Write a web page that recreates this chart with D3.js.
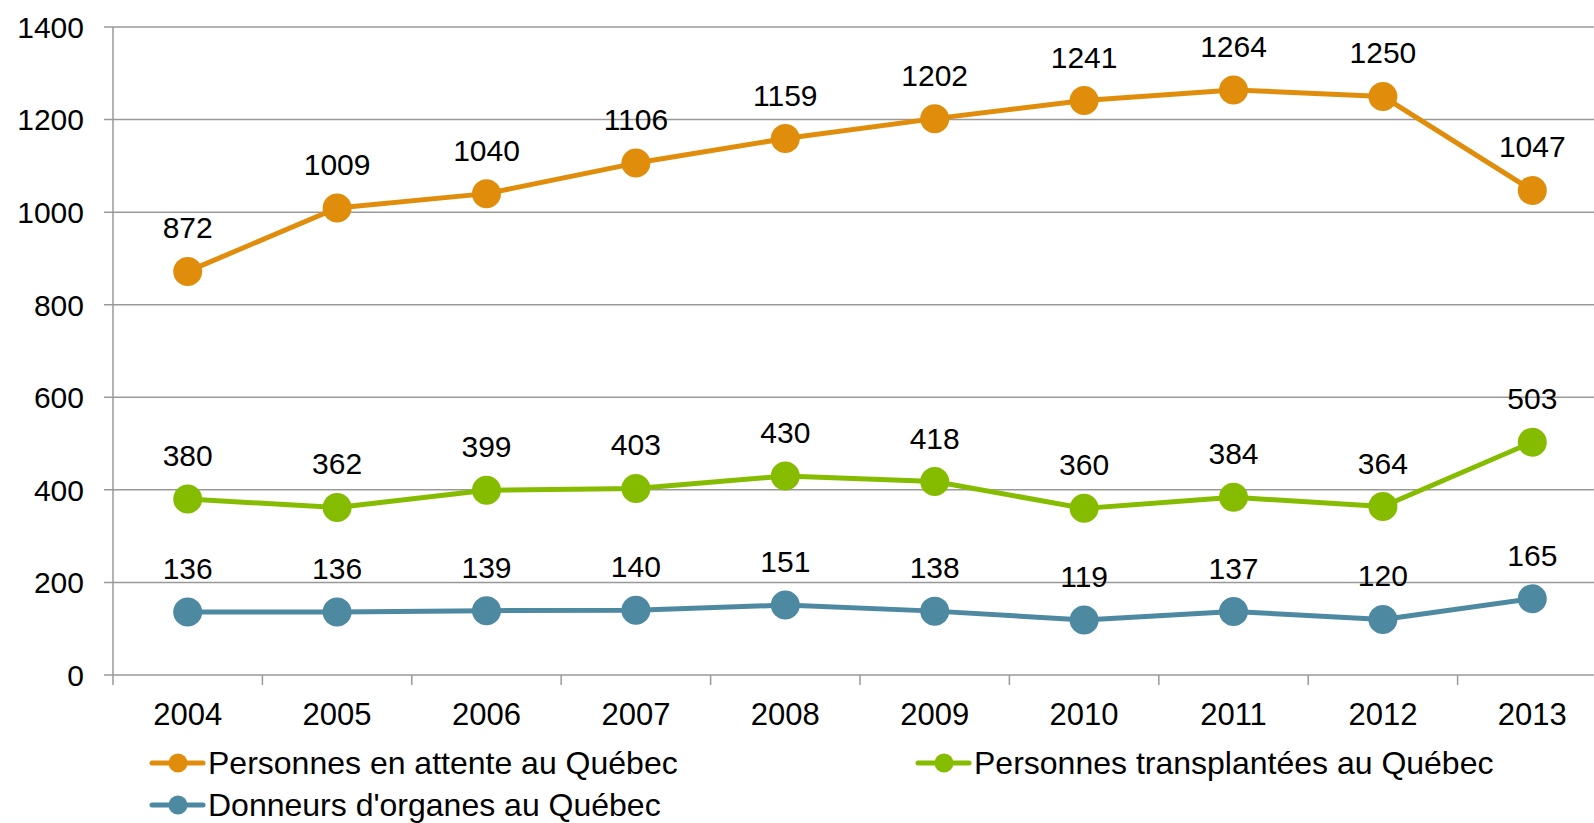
<!DOCTYPE html>
<html><head><meta charset="utf-8">
<script src="https://cdn.jsdelivr.net/npm/d3@7"></script>
<style>body{margin:0;background:#fff;overflow:hidden}svg{display:block;font-family:"Liberation Sans",Arial,sans-serif}</style>
</head><body><svg id="c" width="1594" height="823"></svg>
<script>
const years = ["2004","2005","2006","2007","2008","2009","2010","2011","2012","2013"];
const attente = [872,1009,1040,1106,1159,1202,1241,1264,1250,1047];
const transplantees = [380,362,399,403,430,418,360,384,364,503];
const donneurs = [136,136,139,140,151,138,119,137,120,165];
const yTicks = [0,200,400,600,800,1000,1200,1400];
const seriesNames = ["Personnes en attente au Québec","Personnes transplantées au Québec","Donneurs d'organes au Québec"];
const colors = ["#E08D0C","#86BC00","#4E89A2"];

(function(){
const svg = d3.select("#c");
const pLeft = 113, pTop = 27, pBottom = 675, bandW = 149.4;
const x = d3.scaleBand().domain(years).range([pLeft, pLeft + bandW*years.length]);
const y = d3.scaleLinear().domain([0,1400]).range([pBottom, pTop]);
const grid = "#999";
const fs = 30;

svg.append("g").selectAll("line").data(yTicks).join("line")
  .attr("x1", pLeft-9).attr("x2", 1594).attr("y1", d=>y(d)).attr("y2", d=>y(d))
  .attr("stroke", grid).attr("stroke-width", 1.5);
svg.append("line").attr("x1",pLeft).attr("x2",pLeft).attr("y1",pTop).attr("y2",pBottom)
  .attr("stroke",grid).attr("stroke-width",1.5);
svg.append("g").selectAll("text").data(yTicks).join("text")
  .attr("x", 84).attr("y", d=>y(d)).attr("dy","0.36em").attr("text-anchor","end")
  .attr("font-size",fs).text(d=>d);
const xt = d3.range(years.length+1).map(i=>pLeft+i*bandW);
svg.append("g").selectAll("line").data(xt).join("line")
  .attr("x1",d=>d).attr("x2",d=>d).attr("y1",pBottom).attr("y2",pBottom+10)
  .attr("stroke",grid).attr("stroke-width",1.5);
svg.append("g").selectAll("text").data(years).join("text")
  .attr("x", d=>x(d)+x.bandwidth()/2).attr("y", 725).attr("text-anchor","middle")
  .attr("font-size",31).text(d=>d);

const allSeries = [attente, transplantees, donneurs];
const line = d3.line().x((d,i)=>x(years[i])+x.bandwidth()/2).y(d=>y(d));
allSeries.forEach((s,k)=>{
  svg.append("path").datum(s).attr("d",line).attr("fill","none")
    .attr("stroke",colors[k]).attr("stroke-width",5).attr("stroke-linejoin","round");
  svg.append("g").selectAll("circle").data(s).join("circle")
    .attr("cx",(d,i)=>x(years[i])+x.bandwidth()/2).attr("cy",d=>y(d)).attr("r",14.5)
    .attr("fill",colors[k]);
  svg.append("g").selectAll("text").data(s).join("text")
    .attr("x",(d,i)=>x(years[i])+x.bandwidth()/2).attr("y",d=>y(d)-33)
    .attr("text-anchor","middle").attr("font-size",fs).text(d=>d);
});

const leg = [{x:152,y:763},{x:918,y:763},{x:152,y:805}];
leg.forEach((p,k)=>{
  const g = svg.append("g");
  g.append("line").attr("x1",p.x).attr("x2",p.x+51).attr("y1",p.y).attr("y2",p.y)
    .attr("stroke",colors[k]).attr("stroke-width",5).attr("stroke-linecap","round");
  g.append("circle").attr("cx",p.x+26).attr("cy",p.y).attr("r",9.5).attr("fill",colors[k]);
  g.append("text").attr("x",p.x+56).attr("y",p.y).attr("dy","0.34em")
    .attr("font-size",32).text(seriesNames[k]);
});
})();
</script></body></html>
